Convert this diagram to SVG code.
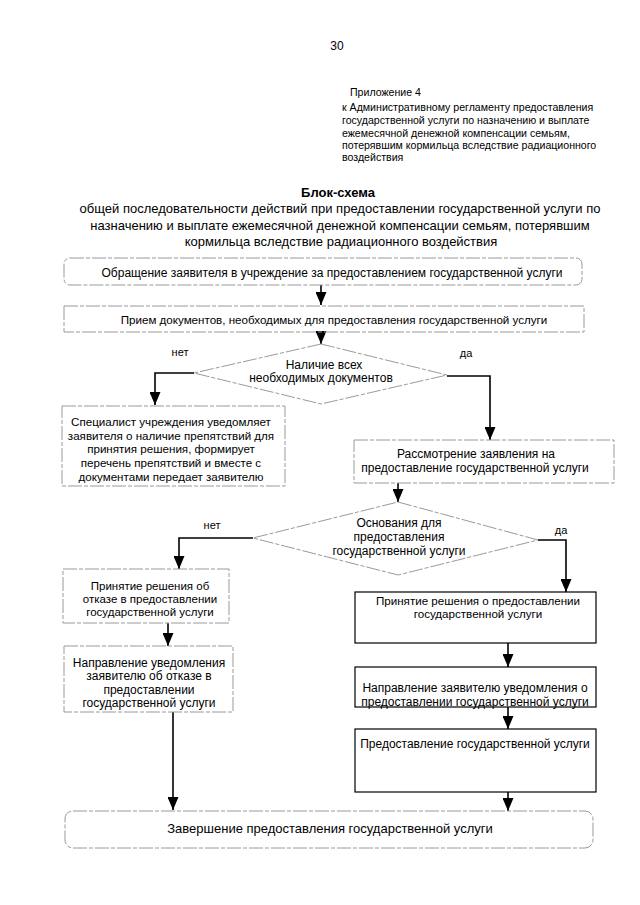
<svg xmlns="http://www.w3.org/2000/svg" width="640" height="905" viewBox="0 0 640 905">
<style>
text{font-family:"Liberation Sans",Arial,sans-serif;fill:#000}
.t{font-size:12px;text-anchor:middle}
.h{font-size:10.6px}
.ttl{font-size:13px;text-anchor:middle}
.lbl{font-size:11px;text-anchor:middle}
.faint{fill:none;stroke:#9a9a9a;stroke-width:1;stroke-dasharray:14 2 4 2}
.solid{fill:none;stroke:#000;stroke-width:1.2}
.con{fill:none;stroke:#000;stroke-width:1.6}
</style>
<defs>
<marker id="ah" markerUnits="userSpaceOnUse" markerWidth="13" markerHeight="11" viewBox="0 0 13 11" refX="13" refY="5.5" orient="auto">
<path d="M0,0 L13,5.5 L0,11 z" fill="#000"/>
</marker>
</defs>
<rect width="640" height="905" fill="#fff"/>
<g id="header">
<text x="337" y="50" style="font-size:12px;text-anchor:middle">30</text>
<text class="h" x="350" y="96">Приложение 4</text>
<text class="h" x="342" y="111">к Административному регламенту предоставления</text>
<text class="h" x="342" y="124">государственной услуги по  назначению и выплате</text>
<text class="h" x="342" y="137">ежемесячной денежной компенсации семьям,</text>
<text class="h" x="342" y="149">потерявшим кормильца вследствие радиационного</text>
<text class="h" x="342" y="161">воздействия</text>
<text x="338" y="197" style="font-size:13px;font-weight:bold;text-anchor:middle">Блок-схема</text>
<text class="ttl" x="340" y="213">общей последовательности действий при предоставлении государственной услуги по</text>
<text class="ttl" x="340" y="230">назначению и выплате  ежемесячной денежной компенсации семьям, потерявшим</text>
<text class="ttl" x="341" y="246">кормильца вследствие радиационного воздействия</text>
</g>
<g id="connectors">
<path class="con" d="M321,285 V305" marker-end="url(#ah)"/>
<path class="con" d="M321,332 V344" marker-end="url(#ah)"/>
<path class="con" d="M194,373 H155 V405" marker-end="url(#ah)"/>
<path class="con" d="M447,376 H490 V440" marker-end="url(#ah)"/>
<path class="con" d="M398,483 V502" marker-end="url(#ah)"/>
<path class="con" d="M253,538 H179 V569" marker-end="url(#ah)"/>
<path class="con" d="M538,540 H566 V592" marker-end="url(#ah)"/>
<path class="con" d="M168,623 V646" marker-end="url(#ah)"/>
<path class="con" d="M173,712 V810" marker-end="url(#ah)"/>
<path class="con" d="M508,643 V667" marker-end="url(#ah)"/>
<path class="con" d="M508,707 V729" marker-end="url(#ah)"/>
<path class="con" d="M508,792 V811" marker-end="url(#ah)"/>
<text class="lbl" x="180" y="356">нет</text>
<text class="lbl" x="466" y="357">да</text>
<text class="lbl" x="212" y="529">нет</text>
<text class="lbl" x="561" y="534">да</text>
</g>
<g id="n1">
<rect class="faint" x="64" y="258" width="518" height="27" rx="6"/>
<text class="t" x="332" y="277">Обращение заявителя в учреждение за предоставлением государственной услуги</text>
</g>
<g id="n2">
<rect class="faint" x="64" y="306" width="520" height="26"/>
<text class="t" x="334" y="324" style="font-size:11.6px">Прием документов, необходимых для предоставления государственной услуги</text>
</g>
<g id="d1">
<polygon class="faint" points="321,344 447,375 321,404 194,373"/>
<text class="t" x="324" y="369">Наличие всех</text>
<text class="t" x="321" y="382">необходимых документов</text>
</g>
<g id="n_refuse_docs">
<rect class="faint" x="62" y="406" width="223" height="80"/>
<text class="t" x="171" y="426" style="font-size:11.6px">Специалист учреждения уведомляет</text>
<text class="t" x="171" y="440" style="font-size:11.6px">заявителя о наличие препятствий для</text>
<text class="t" x="171" y="453" style="font-size:11.6px">принятия решения, формирует</text>
<text class="t" x="171" y="467" style="font-size:11.6px">перечень препятствий и вместе с</text>
<text class="t" x="171" y="481" style="font-size:11.6px">документами передает заявителю</text>
</g>
<g id="n3">
<rect class="faint" x="354" y="440" width="260" height="43"/>
<text class="t" x="476" y="458">Рассмотрение заявления на</text>
<text class="t" x="475" y="472">предоставление государственной услуги</text>
</g>
<g id="d2">
<polygon class="faint" points="398,502 538,540 398,575 253,538"/>
<text class="t" x="399" y="527">Основания для</text>
<text class="t" x="399" y="541">предоставления</text>
<text class="t" x="399" y="555">государственной услуги</text>
</g>
<g id="n4">
<rect class="faint" x="63" y="569" width="166" height="54"/>
<text class="t" x="150" y="590" style="font-size:11.5px">Принятие решения об</text>
<text class="t" x="150" y="603" style="font-size:11.5px">отказе в предоставлении</text>
<text class="t" x="150" y="616" style="font-size:11.5px">государственной услуги</text>
</g>
<g id="n5">
<rect class="faint" x="64" y="646" width="169" height="66"/>
<text class="t" x="149" y="667">Направление уведомления</text>
<text class="t" x="149" y="680">заявителю об отказе в</text>
<text class="t" x="149" y="694">предоставлении</text>
<text class="t" x="149" y="707">государственной услуги</text>
</g>
<g id="n6">
<rect class="solid" x="355" y="592" width="241" height="51"/>
<text class="t" x="478" y="605" style="font-size:11.6px">Принятие решения о предоставлении</text>
<text class="t" x="478" y="618" style="font-size:11.6px">государственной услуги</text>
</g>
<g id="n7">
<rect class="solid" x="355" y="667" width="241" height="40"/>
<text class="t" x="475" y="692">Направление заявителю уведомления о</text>
<text class="t" x="475" y="706">предоставлении государственной услуги</text>
</g>
<g id="n8">
<rect class="solid" x="355" y="729" width="241" height="63"/>
<text class="t" x="475" y="748">Предоставление государственной услуги</text>
</g>
<g id="n9">
<rect class="faint" x="65" y="811" width="528" height="37" rx="8"/>
<text x="330" y="833" style="font-size:13px;text-anchor:middle">Завершение предоставления государственной услуги</text>
</g>
</svg>
